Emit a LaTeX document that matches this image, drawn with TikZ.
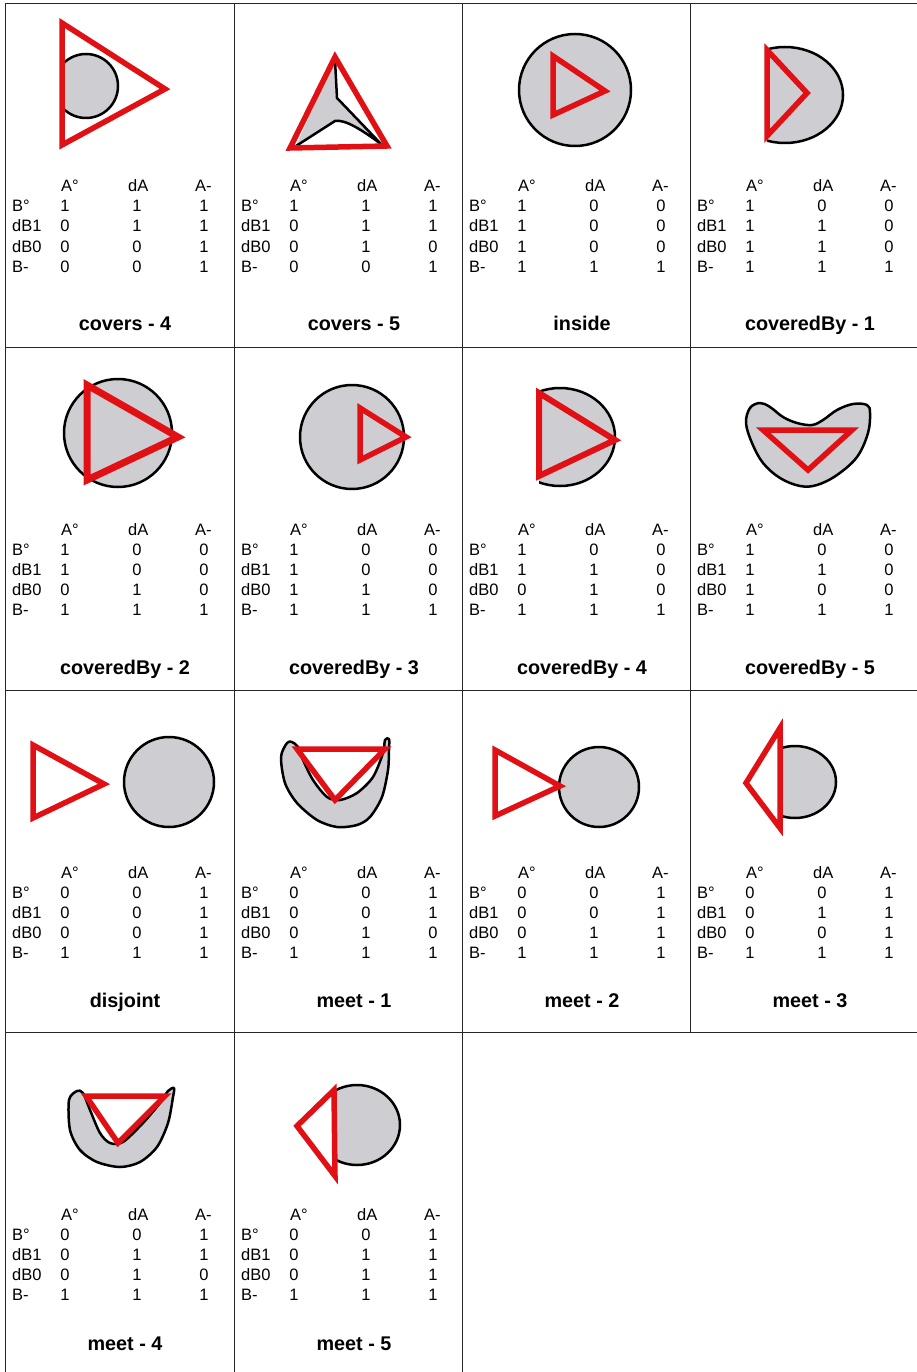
\documentclass[tikz,border=0pt]{standalone}
\usepackage{fontspec}
\setmainfont{Liberation Sans}
\definecolor{regiongray}{RGB}{206,206,210}
\definecolor{regionred}{RGB}{225,16,20}
\newcommand{\tabfont}{\fontsize{16.5}{18}\selectfont}
\newcommand{\titlefont}{\fontsize{19.8}{22}\selectfont\bfseries}
\tikzset{
	gridline/.style={
			draw=black!85,
			line width=1pt
		},
	regionB/.style={
			fill=regiongray,
			draw=black,
			line width=2.5pt,
			line join=round
		},
	regionA/.style={
			draw=regionred,
			line width=5.5pt,
			line join=miter
		},
	colhead/.style={
			anchor=base west,
			inner sep=0pt,
			font=\tabfont
		},
	rowhead/.style={
			colhead
		},
	entry/.style={
			anchor=base,
			inner sep=0pt,
			font=\tabfont
		},
	celltitle/.style={
			anchor=base,
			inner sep=0pt,
			font=\titlefont
		}
}
% #1 name, #2 x0, #3 y0, #4 title baseline, #5 title, #6 rows
\newcommand{\relcell}[6]{%
  \begin{scope}[shift={(#2,#3)}]
    \node[colhead] (#1-ha) at (56,188) {A°};
    \node[colhead] (#1-hd) at (123,188) {dA};
    \node[colhead] (#1-hm) at (190,188) {A-};
    \foreach \rl [count=\ri] in {B°,dB1,dB0,B-}
      \node[rowhead] (#1-r\ri) at (7,188+20*\ri) {\rl};
    \foreach \va/\vb/\vc [count=\ri] in {#6} {
      \node[entry] (#1-\ri-1) at (60,188+20*\ri) {\va};
      \node[entry] (#1-\ri-2) at (132,188+20*\ri) {\vb};
      \node[entry] (#1-\ri-3) at (199,188+20*\ri) {\vc};
    }
    \node[celltitle] (#1-t) at (120,#4) {#5};
  \end{scope}}

\begin{document}
\begin{tikzpicture}[x=1pt, y=-1pt]
\useasboundingbox (0,0) rectangle (917,1372);

% grid
\draw[gridline] (5,4) -- (917,4);
\foreach \gy in {347,690,1032}
  \draw[gridline] (5,\gy) -- (917,\gy);
\foreach \gx in {5,234,462}
  \draw[gridline] (\gx,4) -- (\gx,1372);
\draw[gridline] (690,4) -- (690,1032);

% covers - 4
\begin{scope}
  \clip (62,40) rectangle (140,140);
  \draw[regionB] (86,86) circle (32pt);
\end{scope}
\draw[regionA] (62,23) -- (62,145) -- (165,89) -- cycle;

% covers - 5
\fill[regiongray] (335,58) -- (337,98) -- (381,144) .. controls (362,130) and (345,119) .. (335,121) -- (296,146) -- cycle;
\draw[black, line width=2.5pt] (335,60) -- (337,98) -- (381,144) .. controls (362,130) and (345,119) .. (335,121) -- (296,146);
\draw[regionA] (335,57) -- (290,148) -- (387,146) -- cycle;

% inside
\draw[regionB] (575,90) circle (56pt);
\draw[regionA] (553,56) -- (553,115) -- (605,91) -- cycle;

% coveredBy - 1
\begin{scope}
  \clip (767,30) rectangle (860,160);
  \draw[regionB] (785,95) ellipse [x radius=58pt, y radius=48pt];
\end{scope}
\draw[regionA] (767,50) -- (767,136) -- (807,93) -- cycle;

% coveredBy - 2
\draw[regionB] (118,433) circle (54pt);
\draw[regionA, line width=7pt] (87,385) -- (87,480) -- (178,437) -- cycle;

% coveredBy - 3
\draw[regionB] (352,437) circle (52pt);
\draw[regionA] (360,408) -- (360,460) -- (406,437) -- cycle;

% coveredBy - 4
\begin{scope}
  \clip (539,380) rectangle (630,495);
  \draw[regionB] (560,437) ellipse [x radius=55pt, y radius=49pt];
\end{scope}
\draw[regionA, line width=6pt] (539,393) -- (539,476) -- (615,440) -- cycle;

% coveredBy - 5
\draw[regionB] plot[smooth cycle, tension=0.6] coordinates {(750,408) (760,403) (770,407) (783,417) (797,423) (812,425) (823,420) (837,410) (853,404) (867,405) (870,413) (868,433) (857,457) (837,475) (817,485) (800,486) (780,478) (763,463) (752,443) (746,423)};
\draw[regionA] (763,430) -- (852,430) -- (808,470) -- cycle;

% disjoint
\draw[regionB] (169,782) circle (45pt);
\draw[regionA] (33,745) -- (33,818) -- (104,784) -- cycle;

% meet - 1
\draw[regionB] plot[smooth cycle, tension=0.5] coordinates {(287,743) (281,757) (285,783) (297,803) (317,820) (337,827) (357,825) (370,817) (382,797) (388,770) (389,750) (389,739) (385,740) (383,753) (373,777) (357,793) (340,800) (327,797) (313,780) (303,760) (298,747) (292,742)};
\draw[regionA] (297,749) -- (385,749) -- (335,800) -- cycle;

% meet - 2
\draw[regionB] (599,787) circle (40pt);
\draw[regionA] (495,750) -- (495,816) -- (560,786) -- cycle;

% meet - 3
\begin{scope}
  \clip (780,730) rectangle (850,830);
  \draw[regionB] (795,782) ellipse [x radius=41pt, y radius=36pt];
\end{scope}
\draw[regionA] (780,728) -- (780,828) -- (746,783) -- cycle;

% meet - 4
\draw[regionB] plot[smooth cycle, tension=0.5] coordinates {(77,1091) (69,1100) (70,1130) (80,1150) (97,1162) (120,1167) (140,1162) (157,1147) (168,1123) (173,1097) (174,1088) (168,1091) (160,1103) (143,1123) (123,1142) (110,1143) (100,1133) (90,1110) (83,1093)};
\draw[regionA] (86,1096) -- (165,1096) -- (118,1143) -- cycle;

% meet - 5
\begin{scope}
  \clip (335,1075) rectangle (410,1175);
  \draw[regionB] (357,1125) ellipse [x radius=43pt, y radius=40pt];
\end{scope}
\draw[regionA] (334,1090) -- (335,1176) -- (297,1126) -- cycle;

% tables
\relcell{c1}{5}{4}{326}{covers - 4}{1/1/1,0/1/1,0/0/1,0/0/1}
\relcell{c2}{234}{4}{326}{covers - 5}{1/1/1,0/1/1,0/1/0,0/0/1}
\relcell{c3}{462}{4}{326}{inside}{1/0/0,1/0/0,1/0/0,1/1/1}
\relcell{c4}{690}{4}{326}{coveredBy - 1}{1/0/0,1/1/0,1/1/0,1/1/1}

\relcell{c5}{5}{347}{327}{coveredBy - 2}{1/0/0,1/0/0,0/1/0,1/1/1}
\relcell{c6}{234}{347}{327}{coveredBy - 3}{1/0/0,1/0/0,1/1/0,1/1/1}
\relcell{c7}{462}{347}{327}{coveredBy - 4}{1/0/0,1/1/0,0/1/0,1/1/1}
\relcell{c8}{690}{347}{327}{coveredBy - 5}{1/0/0,1/1/0,1/0/0,1/1/1}

\relcell{c9}{5}{690}{317}{disjoint}{0/0/1,0/0/1,0/0/1,1/1/1}
\relcell{c10}{234}{690}{317}{meet - 1}{0/0/1,0/0/1,0/1/0,1/1/1}
\relcell{c11}{462}{690}{317}{meet - 2}{0/0/1,0/0/1,0/1/1,1/1/1}
\relcell{c12}{690}{690}{317}{meet - 3}{0/0/1,0/1/1,0/0/1,1/1/1}

\relcell{c13}{5}{1032}{318}{meet - 4}{0/0/1,0/1/1,0/1/0,1/1/1}
\relcell{c14}{234}{1032}{318}{meet - 5}{0/0/1,0/1/1,0/1/1,1/1/1}
\end{tikzpicture}
\end{document}
